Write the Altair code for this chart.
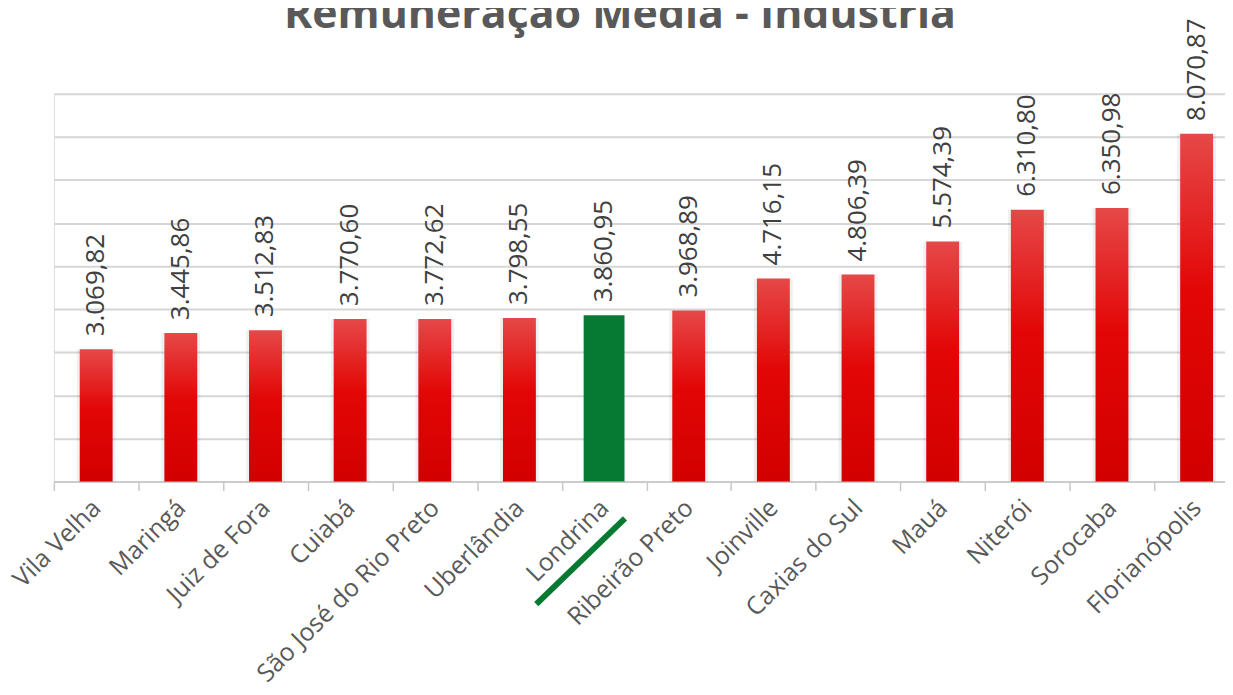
import altair as alt
import pandas as pd

cities = ["Vila Velha", "Maringá", "Juiz de Fora", "Cuiabá", "São José do Rio Preto",
          "Uberlândia", "Londrina", "Ribeirão Preto", "Joinville", "Caxias do Sul",
          "Mauá", "Niterói", "Sorocaba", "Florianópolis"]
values = [3069.82, 3445.86, 3512.83, 3770.60, 3772.62, 3798.55, 3860.95, 3968.89,
          4716.15, 4806.39, 5574.39, 6310.80, 6350.98, 8070.87]
highlight = "Londrina"
title_text = "Remuneração Média - Indústria"


def br(v):
    return f"{v:,.2f}".replace(",", "X").replace(".", ",").replace("X", ".")


df = pd.DataFrame({"city": cities, "value": values, "label": [br(v) for v in values]})
df["hl"] = df["city"] == highlight

W, H = 1175, 389

x = alt.X("city:N", sort=cities, title=None,
          scale=alt.Scale(range=[0, 1189], paddingInner=0, paddingOuter=0),
          axis=alt.Axis(labelAngle=-45, labelAlign="right", labelBaseline="middle",
                        labelFont="Open Sans", labelFontSize=25, labelColor="#595959",
                        labelPadding=13, labelOverlap=False, labelBound=False, labelLimit=0,
                        tickBand="extent", tickSize=9, tickColor="#c8c8c8", tickWidth=1.5,
                        domainColor="#c8c8c8", domainWidth=1.5, grid=False))
y = alt.Y("value:Q", title=None,
          scale=alt.Scale(domain=[0, 9000], nice=False),
          axis=alt.Axis(values=list(range(0, 9001, 1000)), labels=False, ticks=False,
                        domain=False, grid=True, gridColor="#d6d6d6", gridWidth=2))

base = alt.Chart(df)

red_grad = alt.Gradient(gradient="linear", x1=0, y1=0, x2=0, y2=1,
                        stops=[alt.GradientStop(color="#e64848", offset=0),
                               alt.GradientStop(color="#e30606", offset=0.45),
                               alt.GradientStop(color="#d20000", offset=1)])

shadow = base.mark_bar(size=39, color="#000000", opacity=0.06).encode(x=x, y=y).transform_filter("!datum.hl")
red = base.mark_bar(size=33, color=red_grad).encode(x=x, y=y).transform_filter("!datum.hl")
green = base.mark_bar(size=41, color="#067a32").encode(x=x, y=y).transform_filter("datum.hl")

labels = base.mark_text(angle=270, align="left", baseline="middle", dx=13,
                        font="Open Sans", fontSize=26, color="#404040").encode(
    x=x, y=y, text="label:N")

title = alt.Chart(pd.DataFrame({"t": [title_text]})).mark_text(
    font="Open Sans", fontWeight="bold", fontSize=43, color="#595959",
    align="center", baseline="alphabetic").encode(
    x=alt.value(568), y=alt.value(-66), text="t:N")

underline = alt.Chart(pd.DataFrame({"c": [highlight]})).mark_rule(
    color="#067a32", strokeWidth=6).encode(
    x=alt.value(484), x2=alt.value(573), y=alt.value(512), y2=alt.value(426))

chart = alt.layer(shadow, red, green, labels, title, underline).properties(
    width=W, height=H,
    autosize=alt.AutoSizeParams(type="none"),
    padding={"left": 46, "top": 85, "right": 0, "bottom": 200},
).configure_view(stroke="transparent", strokeWidth=0).configure(background="white")

chart.save("out.html", embed_options={"renderer": "svg", "actions": False})
